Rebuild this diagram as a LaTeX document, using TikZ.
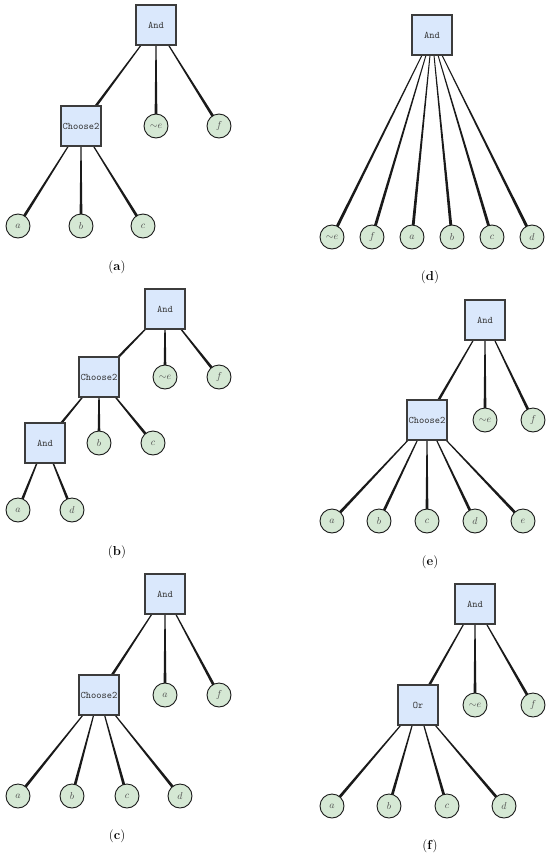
\documentclass[tikz,border=0pt]{standalone}
\usepackage{amsmath}
\usepackage{tikz}
\usetikzlibrary{positioning,calc,backgrounds}
\definecolor{gatefill}{HTML}{DAE8FC}
\definecolor{leaffill}{HTML}{D5E8D4}
\definecolor{linecol}{HTML}{1A1A1A}
\tikzset{
  gate/.style={rectangle, draw=linecol!85, line width=1.2pt, fill=gatefill,
    minimum size=40pt, inner sep=0pt, text=black!80,
    font=\ttfamily\fontsize{10}{12}\selectfont},
  leaf/.style={circle, draw=linecol, line width=0.9pt, fill=leaffill,
    minimum size=24pt, inner sep=0pt, text=black!70,
    font=\fontsize{10}{11}\selectfont},
  caption/.style={font=\fontsize{13}{15}\selectfont},
}
% tapered connector, thin at the parent and heavy at the child
\newcommand{\taper}[2]{%
  \fill[linecol] ($(#1.center)!0.35pt!90:(#2.center)$)
    -- ($(#1.center)!0.35pt!-90:(#2.center)$)
    -- ($(#2.center)!1.5pt!90:(#1.center)$)
    -- ($(#2.center)!1.5pt!-90:(#1.center)$) -- cycle;}

\begin{document}
\begin{tikzpicture}[x=1pt, y=-1pt, on grid]
    \useasboundingbox (0,0) rectangle (550,857);
    % define vertices
    % (a)
    \node[gate] (a_root) at (156,25) {And};
    \node[gate, below left=101pt and 75pt of a_root] (a_choose) {Choose2};
    \node[leaf, below=101pt of a_root] (a_note) {${\sim}e$};
    \node[leaf, below right=101pt and 63pt of a_root] (a_f) {$f$};
    \node[leaf, below left=100pt and 63pt of a_choose] (a_a) {$a$};
    \node[leaf, below=100pt of a_choose] (a_b) {$b$};
    \node[leaf, below right=100pt and 62pt of a_choose] (a_c) {$c$};
    % (b)
    \node[gate] (b_root) at (165,309) {And};
    \node[gate, below left=68pt and 66pt of b_root] (b_choose) {Choose2};
    \node[leaf, below=68pt of b_root] (b_note) {${\sim}e$};
    \node[leaf, below right=68pt and 54pt of b_root] (b_f) {$f$};
    \node[gate, below left=66pt and 54pt of b_choose] (b_and) {And};
    \node[leaf, below=66pt of b_choose] (b_b) {$b$};
    \node[leaf, below right=66pt and 54pt of b_choose] (b_c) {$c$};
    \node[leaf, below left=67pt and 27pt of b_and] (b_a) {$a$};
    \node[leaf, below right=67pt and 27pt of b_and] (b_d) {$d$};
    % (c)
    \node[gate] (c_root) at (165,594) {And};
    \node[gate, below left=101pt and 66pt of c_root] (c_choose) {Choose2};
    \node[leaf, below=101pt of c_root] (c_atop) {$a$};
    \node[leaf, below right=101pt and 54pt of c_root] (c_f) {$f$};
    \node[leaf, below left=101pt and 81pt of c_choose] (c_a) {$a$};
    \node[leaf, below left=101pt and 27pt of c_choose] (c_b) {$b$};
    \node[leaf, below right=101pt and 28pt of c_choose] (c_c) {$c$};
    \node[leaf, below right=101pt and 81pt of c_choose] (c_d) {$d$};
    % (d)
    \node[gate] (d_root) at (432,35) {And};
    \node[leaf, below left=202pt and 100pt of d_root] (d_note) {${\sim}e$};
    \node[leaf, below left=202pt and 60pt of d_root] (d_f) {$f$};
    \node[leaf, below left=202pt and 20pt of d_root] (d_a) {$a$};
    \node[leaf, below right=202pt and 20pt of d_root] (d_b) {$b$};
    \node[leaf, below right=202pt and 60pt of d_root] (d_c) {$c$};
    \node[leaf, below right=202pt and 100pt of d_root] (d_d) {$d$};
    % (e)
    \node[gate] (e_root) at (485,320) {And};
    \node[gate, below left=100pt and 58pt of e_root] (e_choose) {Choose2};
    \node[leaf, below=100pt of e_root] (e_note) {${\sim}e$};
    \node[leaf, below right=100pt and 48pt of e_root] (e_f) {$f$};
    \node[leaf, below left=101pt and 95pt of e_choose] (e_a) {$a$};
    \node[leaf, below left=101pt and 48pt of e_choose] (e_b) {$b$};
    \node[leaf, below=101pt of e_choose] (e_c) {$c$};
    \node[leaf, below right=101pt and 48pt of e_choose] (e_d) {$d$};
    \node[leaf, below right=101pt and 96pt of e_choose] (e_e) {$e$};
    % (f)
    \node[gate] (f_root) at (475,604) {And};
    \node[gate, below left=101pt and 57pt of f_root] (f_or) {Or};
    \node[leaf, below=101pt of f_root] (f_note) {${\sim}e$};
    \node[leaf, below right=101pt and 58pt of f_root] (f_f) {$f$};
    \node[leaf, below left=101pt and 86pt of f_or] (f_a) {$a$};
    \node[leaf, below left=101pt and 29pt of f_or] (f_b) {$b$};
    \node[leaf, below right=101pt and 29pt of f_or] (f_c) {$c$};
    \node[leaf, below right=101pt and 86pt of f_or] (f_d) {$d$};
    % draw connectors behind the nodes
    \begin{pgfonlayer}{background}
        \taper{a_root}{a_choose} \taper{a_root}{a_note} \taper{a_root}{a_f}
        \taper{a_choose}{a_a} \taper{a_choose}{a_b} \taper{a_choose}{a_c}
        \taper{b_root}{b_choose} \taper{b_root}{b_note} \taper{b_root}{b_f}
        \taper{b_choose}{b_and} \taper{b_choose}{b_b} \taper{b_choose}{b_c}
        \taper{b_and}{b_a} \taper{b_and}{b_d}
        \taper{c_root}{c_choose} \taper{c_root}{c_atop} \taper{c_root}{c_f}
        \taper{c_choose}{c_a} \taper{c_choose}{c_b}
        \taper{c_choose}{c_c} \taper{c_choose}{c_d}
        \taper{d_root}{d_note} \taper{d_root}{d_f} \taper{d_root}{d_a}
        \taper{d_root}{d_b} \taper{d_root}{d_c} \taper{d_root}{d_d}
        \taper{e_root}{e_choose} \taper{e_root}{e_note} \taper{e_root}{e_f}
        \taper{e_choose}{e_a} \taper{e_choose}{e_b} \taper{e_choose}{e_c}
        \taper{e_choose}{e_d} \taper{e_choose}{e_e}
        \taper{f_root}{f_or} \taper{f_root}{f_note} \taper{f_root}{f_f}
        \taper{f_or}{f_a} \taper{f_or}{f_b} \taper{f_or}{f_c} \taper{f_or}{f_d}
    \end{pgfonlayer}
    % add captions
    \node[caption] (cap_a) at (117,267) {(\textbf{a})};
    \node[caption] (cap_b) at (117,552) {(\textbf{b})};
    \node[caption] (cap_c) at (117,836) {(\textbf{c})};
    \node[caption] (cap_d) at (430,277) {(\textbf{d})};
    \node[caption] (cap_e) at (430,562) {(\textbf{e})};
    \node[caption] (cap_f) at (430,846) {(\textbf{f})};
\end{tikzpicture}
\end{document}
